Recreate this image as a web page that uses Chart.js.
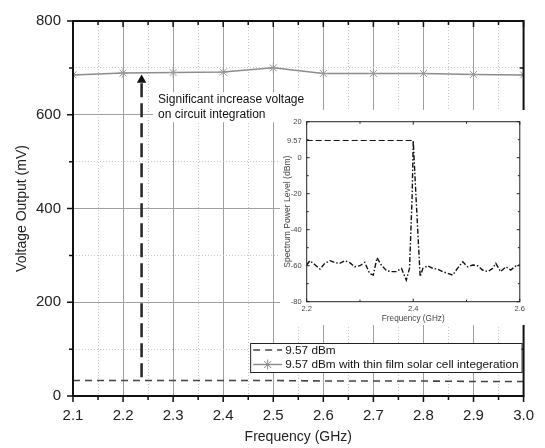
<!DOCTYPE html>
<html><head><meta charset="utf-8">
<script src="https://cdn.jsdelivr.net/npm/chart.js"></script>
<style>
html,body{margin:0;padding:0;background:#fff;}
#wrap{position:relative;width:545px;height:448px;overflow:hidden;}
#main{position:absolute;left:0;top:0;}
#inset{position:absolute;left:280px;top:110px;background:#fff;}
</style></head><body>
<div id="wrap"><canvas id="main" width="545" height="448"></canvas><canvas id="inset" width="248" height="215"></canvas></div>
<script>
// ---------- data ----------
const mainFreq = [2.1, 2.2, 2.3, 2.4, 2.5, 2.6, 2.7, 2.8, 2.9, 3.0];
const voltageBaseline = [33, 33, 33, 33, 33, 32, 32, 32, 31, 31];
const voltageSolar = [685, 689, 690, 691, 700, 688, 688, 688, 686, 685];
const seriesLabels = ['9.57 dBm', '9.57 dBm with thin film solar cell integeration'];

const specFreq = [2.200, 2.206, 2.216, 2.225, 2.234, 2.244, 2.253, 2.262, 2.272, 2.281, 2.290, 2.300,
  2.309, 2.318, 2.325, 2.332, 2.340, 2.350, 2.359, 2.368, 2.378, 2.387, 2.393, 2.398, 2.400, 2.405,
  2.413, 2.418, 2.427, 2.437, 2.446, 2.455, 2.465, 2.474, 2.483, 2.493, 2.502, 2.512, 2.521, 2.530,
  2.540, 2.549, 2.555, 2.564, 2.574, 2.583, 2.593, 2.600];
const specPower = [-59.6, -57.2, -59.6, -61.9, -58.7, -57.2, -58.3, -58.7, -57.2, -58.3, -60.6, -60.0,
  -58.1, -64.3, -65.2, -55.6, -59.6, -62.8, -63.3, -63.3, -61.5, -68.0, -61.5, -20.7, 9.57, -20.7,
  -66.1, -61.5, -60.0, -61.5, -61.9, -63.3, -64.3, -65.2, -61.5, -57.8, -60.6, -59.6, -60.0, -62.4,
  -63.3, -61.5, -58.7, -63.3, -60.6, -62.4, -60.0, -59.6];
const peakLevel = 9.57;
const peakFreqRange = [2.2, 2.4];

const mainXTickLabels = ['2.1','2.2','2.3','2.4','2.5','2.6','2.7','2.8','2.9','3.0'];
const mainYTickLabels = ['0','200','400','600','800'];
const insetXTickLabels = ['2.2','2.4','2.6'];
const insetYTickValues = [-80, -60, -40, -20, 0, 9.57, 20];

// annotation (arrow from baseline to solar curve)
const arrowFreq = [2.237, 2.237];
const arrowVolt = [40, 674];
const noteLines = ['Significant increase voltage', 'on circuit integration'];
const noteAnchor = {x: 2.27, y: 633};

// ---------- helpers ----------
const FONT = "'Liberation Sans', Arial, Helvetica, sans-serif";
Chart.defaults.font.family = FONT;
Chart.defaults.color = '#222';
const isMult = (v, step) => Math.abs(v / step - Math.round(v / step)) < 1e-6;

const framePlugin = {
  id: 'frame',
  afterDatasetsDraw(chart, args, o) {
    const {ctx, chartArea: a, scales: {x, y}} = chart;
    ctx.save();
    ctx.setLineDash([]);
    ctx.strokeStyle = o.color;
    ctx.lineWidth = o.tickWidth;
    ctx.beginPath();
    const n1 = Math.round((x.max - x.min) / o.xMinor);
    for (let i = 0; i <= n1; i++) {
      const v = x.min + i * o.xMinor;
      const len = isMult(v, o.xMajor) ? o.major : o.minor;
      const px = x.getPixelForValue(v);
      ctx.moveTo(px, a.bottom); ctx.lineTo(px, a.bottom + (o.outward ? len : -len));
      ctx.moveTo(px, a.top); ctx.lineTo(px, a.top + len);
    }
    const n2 = Math.round((y.max - y.min) / o.yMinor);
    for (let i = 0; i <= n2; i++) {
      const v = y.min + i * o.yMinor;
      const len = isMult(v, o.yMajor) ? o.major : o.minor;
      const py = y.getPixelForValue(v);
      ctx.moveTo(a.left, py); ctx.lineTo(a.left - (o.outward ? len : -len), py);
      ctx.moveTo(a.right, py); ctx.lineTo(a.right - len, py);
    }
    ctx.stroke();
    ctx.lineWidth = o.width;
    ctx.strokeRect(a.left, a.top, a.right - a.left, a.bottom - a.top);
    ctx.restore();
  }
};

const notePlugin = {
  id: 'note',
  beforeDatasetsDraw(chart) {
    const {ctx, scales: {x, y}} = chart;
    const tx = x.getPixelForValue(noteAnchor.x);
    const ty = y.getPixelForValue(noteAnchor.y);
    ctx.save();
    ctx.font = '12px ' + FONT;
    const w = Math.max(...noteLines.map(t => ctx.measureText(t).width));
    ctx.fillStyle = '#fff';
    ctx.fillRect(tx - 5, ty - 7, w + 13, 30);
    ctx.fillStyle = '#111';
    ctx.textBaseline = 'middle';
    noteLines.forEach((t, i) => ctx.fillText(t, tx, ty + i * 15));
    ctx.restore();
  }
};

const legendPlugin = {
  id: 'boxLegend',
  afterDraw(chart) {
    const {ctx, chartArea: a} = chart;
    const ds = chart.data.datasets.filter(d => d.showInLegend);
    ctx.save();
    ctx.font = '11.8px ' + FONT;
    const tw = Math.max(...ds.map(d => ctx.measureText(d.label).width));
    const right = a.right - 2, bottom = a.bottom - 24;
    const h = 29, w = 35 + tw + 3;
    const left = right - w, top = bottom - h;
    ctx.fillStyle = '#fff';
    ctx.fillRect(left, top, w, h);
    ctx.strokeStyle = '#222'; ctx.lineWidth = 1; ctx.setLineDash([]);
    ctx.strokeRect(left + 0.5, top + 0.5, w, h);
    ds.forEach((d, i) => {
      const cy = top + 7 + i * 14.5;
      ctx.strokeStyle = d.borderColor; ctx.lineWidth = d.borderWidth;
      ctx.setLineDash(d.borderDash || []);
      ctx.beginPath(); ctx.moveTo(left + 3, cy); ctx.lineTo(left + 32, cy); ctx.stroke();
      ctx.setLineDash([]);
      if (d.pointRadius) {
        const cx = left + 17.5, r = d.pointRadius;
        ctx.lineWidth = 1;
        ctx.beginPath();
        for (let k = 0; k < 4; k++) {
          const an = k * Math.PI / 4;
          ctx.moveTo(cx - r * Math.cos(an), cy - r * Math.sin(an));
          ctx.lineTo(cx + r * Math.cos(an), cy + r * Math.sin(an));
        }
        ctx.stroke();
      }
      ctx.fillStyle = '#111'; ctx.textBaseline = 'middle';
      ctx.fillText(d.label, left + 35, cy + 0.5);
    });
    ctx.restore();
  }
};

// ---------- main chart ----------
new Chart(document.getElementById('main'), {
  type: 'line',
  data: {
    datasets: [
      {
        label: seriesLabels[0], showInLegend: true,
        data: mainFreq.map((f, i) => ({x: f, y: voltageBaseline[i]})),
        borderColor: '#444', borderWidth: 1.6, borderDash: [7, 5],
        pointRadius: 0, tension: 0
      },
      {
        label: seriesLabels[1], showInLegend: true,
        data: mainFreq.map((f, i) => ({x: f, y: voltageSolar[i]})),
        borderColor: '#8c8c8c', borderWidth: 1.5,
        pointStyle: 'star', pointRadius: 5, pointBorderWidth: 1,
        pointBorderColor: '#999', tension: 0
      },
      {
        label: 'arrow', showInLegend: false,
        data: arrowFreq.map((f, i) => ({x: f, y: arrowVolt[i]})),
        borderColor: '#2a2a2a', borderWidth: 2.6, borderDash: [14, 6],
        pointStyle: 'triangle', pointRadius: [0, 5.5],
        pointBackgroundColor: '#111', pointBorderColor: '#111', pointBorderWidth: 0
      }
    ]
  },
  options: {
    responsive: false, animation: false, devicePixelRatio: 1,
    layout: {padding: {top: 13, right: 16, left: 0, bottom: 0}},
    plugins: {
      legend: {display: false}, tooltip: {enabled: false},
      frame: {color: '#111', width: 2, tickWidth: 1.5, major: 6, minor: 4, outward: true,
              xMinor: 0.05, xMajor: 0.1, yMinor: 100, yMajor: 200}
    },
    scales: {
      x: {
        type: 'linear', min: 2.1, max: 3.0,
        afterFit: s => { s.height = 52; },
        ticks: {
          stepSize: 0.05, autoSkip: false, maxRotation: 0, padding: 11,
          font: {size: 15}, color: '#222',
          callback: v => isMult(v, 0.1) ? mainXTickLabels[Math.round((v - 2.1) * 10)] : ''
        },
        grid: {
          drawTicks: false, lineWidth: 1,
          color: c => (c.tick && isMult(c.tick.value, 0.1)) ? '#a0a0a0' : '#c8c8c8'
        },
        border: {display: false, dash: c => (c.tick && isMult(c.tick.value, 0.1)) ? [] : [1, 2]},
        title: {display: true, text: 'Frequency (GHz)', font: {size: 14}, color: '#222', padding: {top: 0, bottom: 2}}
      },
      y: {
        type: 'linear', min: 0, max: 800,
        afterFit: s => { s.width = 73; },
        ticks: {
          stepSize: 100, padding: 12, font: {size: 15}, color: '#222',
          callback: v => isMult(v, 200) ? mainYTickLabels[Math.round(v / 200)] : ''
        },
        grid: {
          drawTicks: false, lineWidth: 1,
          color: c => (c.tick && isMult(c.tick.value, 200)) ? '#a0a0a0' : '#c8c8c8'
        },
        border: {display: false, dash: c => (c.tick && isMult(c.tick.value, 200)) ? [] : [1, 2]},
        title: {display: true, text: 'Voltage Output (mV)', font: {size: 14}, color: '#222', padding: {top: 14, bottom: 0}}
      }
    }
  },
  plugins: [notePlugin, framePlugin, legendPlugin]
});

// ---------- inset chart ----------
new Chart(document.getElementById('inset'), {
  type: 'line',
  data: {
    datasets: [
      {
        label: 'peak level',
        data: peakFreqRange.map(f => ({x: f, y: peakLevel})),
        borderColor: '#111', borderWidth: 1, borderDash: [6, 3], pointRadius: 0
      },
      {
        label: 'spectrum',
        data: specFreq.map((f, i) => ({x: f, y: specPower[i]})),
        borderColor: '#111', borderWidth: 1.4, borderDash: [5, 2, 1.5, 2], pointRadius: 0, tension: 0
      }
    ]
  },
  options: {
    responsive: false, animation: false, devicePixelRatio: 1,
    layout: {padding: {top: 11.7, right: 7.3, left: 0, bottom: 0}},
    plugins: {
      legend: {display: false}, tooltip: {enabled: false},
      frame: {color: '#222', width: 1, tickWidth: 1, major: 3, minor: 2, outward: false,
              xMinor: 0.1, xMajor: 0.2, yMinor: 10, yMajor: 20}
    },
    scales: {
      x: {
        type: 'linear', min: 2.2, max: 2.6,
        afterFit: s => { s.height = 23.3; },
        ticks: {
          stepSize: 0.2, autoSkip: false, maxRotation: 0, padding: 3,
          font: {size: 7.5}, color: '#444',
          callback: v => insetXTickLabels[Math.round((v - 2.2) * 5)] || ''
        },
        grid: {display: false, drawTicks: false},
        border: {display: false},
        title: {display: true, text: 'Frequency (GHz)', font: {size: 8.2}, color: '#444', padding: {top: 0, bottom: 1}}
      },
      y: {
        type: 'linear', min: -80, max: 20,
        afterFit: s => { s.width = 26.7; },
        afterBuildTicks: s => { s.ticks = insetYTickValues.map(v => ({value: v})); },
        ticks: {
          padding: 5, font: {size: 7.5}, color: '#444', autoSkip: false,
          callback: v => (v === 9.57 ? '9.57' : String(v))
        },
        grid: {display: false, drawTicks: false},
        border: {display: false},
        title: {display: true, text: 'Spectrum Power Level (dBm)', font: {size: 8.6}, color: '#444', padding: {top: 2, bottom: 0}}
      }
    }
  },
  plugins: [framePlugin]
});
</script>
</body></html>
